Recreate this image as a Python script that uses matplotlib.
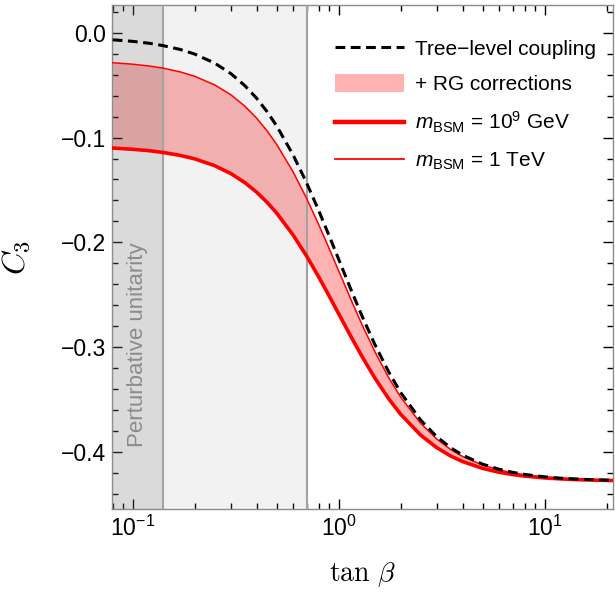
import numpy as np
import matplotlib
matplotlib.use("Agg")
import matplotlib.pyplot as plt
from matplotlib.patches import Patch
from matplotlib.lines import Line2D

plt.rcParams["font.family"] = ["Liberation Sans", "DejaVu Sans"]
plt.rcParams["mathtext.fontset"] = "custom"
plt.rcParams["mathtext.rm"] = "Liberation Sans"
plt.rcParams["mathtext.it"] = "Liberation Sans:italic"
plt.rcParams["mathtext.bf"] = "Liberation Sans:bold"

# %% data
tan_beta = [0.08, 0.10, 0.12, 0.14, 0.17, 0.20, 0.25, 0.30, 0.35, 0.40, 0.45, 0.50,
            0.60, 0.70, 0.80, 0.90, 1.00, 1.15, 1.30, 1.50, 1.75, 2.00, 2.50, 3.00,
            3.50, 4.00, 5.00, 6.00, 7.00, 8.00, 10.0, 12.0, 15.0, 18.0, 21.5]
c3_tree = [-0.0067, -0.0082, -0.0100, -0.0122, -0.0159, -0.0203, -0.0289, -0.0390,
           -0.0503, -0.0625, -0.0754, -0.0888, -0.1162, -0.1434, -0.1695, -0.1938,
           -0.2160, -0.2454, -0.2704, -0.2975, -0.3236, -0.3432, -0.3695, -0.3856,
           -0.3960, -0.4031, -0.4117, -0.4165, -0.4195, -0.4215, -0.4238, -0.4251,
           -0.4261, -0.4267, -0.4271]
c3_1tev = [-0.0286, -0.0300, -0.0317, -0.0337, -0.0373, -0.0415, -0.0497, -0.0592,
           -0.0699, -0.0815, -0.0937, -0.1064, -0.1324, -0.1582, -0.1829, -0.2059,
           -0.2270, -0.2549, -0.2786, -0.3043, -0.3291, -0.3476, -0.3726, -0.3878,
           -0.3977, -0.4044, -0.4125, -0.4171, -0.4200, -0.4218, -0.4240, -0.4252,
           -0.4262, -0.4268, -0.4271]
c3_1e9gev = [-0.1100, -0.1112, -0.1125, -0.1142, -0.1170, -0.1203, -0.1268, -0.1344,
             -0.1429, -0.1521, -0.1619, -0.1720, -0.1927, -0.2132, -0.2329, -0.2512,
             -0.2680, -0.2902, -0.3090, -0.3295, -0.3492, -0.3640, -0.3839, -0.3960,
             -0.4039, -0.4092, -0.4157, -0.4194, -0.4216, -0.4231, -0.4248, -0.4258,
             -0.4266, -0.4270, -0.4273]
unitarity_bound = 0.14
second_bound = 0.7

# %% plot
fig = plt.figure(figsize=(6.15, 5.93), dpi=100)
ax = fig.add_axes([112 / 615, 84 / 593, 501 / 615, 504 / 593])

ax.fill_between(tan_beta, c3_1e9gev, c3_1tev, color="#ffb3b3", lw=0, zorder=1)
ax.axvspan(0.01, unitarity_bound, color="#797979", alpha=0.276, lw=0, zorder=2)
ax.axvspan(unitarity_bound, second_bound, color="#919191", alpha=0.118, lw=0, zorder=2)
for xv in (unitarity_bound, second_bound):
    ax.axvline(xv, color="#a3a3a3", lw=1.5, zorder=3)

ax.plot(tan_beta, c3_1tev, color="#ff0000", lw=1.1, zorder=4)
ax.plot(tan_beta, c3_1e9gev, color="#ff0000", lw=2.6, zorder=4)
ax.plot(tan_beta, c3_tree, color="black", lw=2.2, ls=(0, (3.2, 1.8)), zorder=5)

ax.text(0.106, -0.298, "Perturbative unitarity", rotation=90, color="#8c8c8c",
        fontsize=16, ha="center", va="center", zorder=6)

ax.set_xscale("log")
ax.set_xlim(0.0794, 21.5)
ax.set_ylim(-0.4545, 0.0265)
ax.set_yticks([0.0, -0.1, -0.2, -0.3, -0.4])
ax.set_yticklabels(["0.0", "\u22120.1", "\u22120.2", "\u22120.3", "\u22120.4"])
ax.set_yticks(np.arange(-0.44, 0.021, 0.02), minor=True)
ax.tick_params(which="both", direction="in", top=True, right=True, labelsize=16.5,
               color="black", width=1.0)
ax.tick_params(which="major", length=7, pad=5)
ax.tick_params(axis="y", which="major", pad=4)
ax.tick_params(which="minor", length=4)
for s in ax.spines.values():
    s.set_color("#8c8c8c")
    s.set_linewidth(1.0)

ax.set_xlabel(r"$\tan\,\beta$", fontsize=20, math_fontfamily="cm", labelpad=14)
ax.set_ylabel(r"$C_3$", fontsize=23, math_fontfamily="cm", labelpad=21)

handles = [Line2D([], [], color="black", lw=2.2, ls=(0, (3.2, 1.8))),
           Patch(facecolor="#ffb3b3", edgecolor="none"),
           Line2D([], [], color="#ff0000", lw=3.2),
           Line2D([], [], color="#ff0000", lw=1.3)]
labels = ["Tree\u2212level coupling", "+ RG corrections",
          r"$m_{\mathrm{BSM}}$ = 10$^9$ GeV", r"$m_{\mathrm{BSM}}$ = 1 TeV"]
leg = ax.legend(handles, labels, loc="upper left", bbox_to_anchor=(335 / 615, 1 - 39 / 593),
                bbox_transform=fig.transFigure, frameon=False, fontsize=15,
                handlelength=3.3, handleheight=0.9, handletextpad=0.55,
                labelspacing=0.75, borderpad=0, borderaxespad=0)

fig.savefig("out.png", dpi=100)
